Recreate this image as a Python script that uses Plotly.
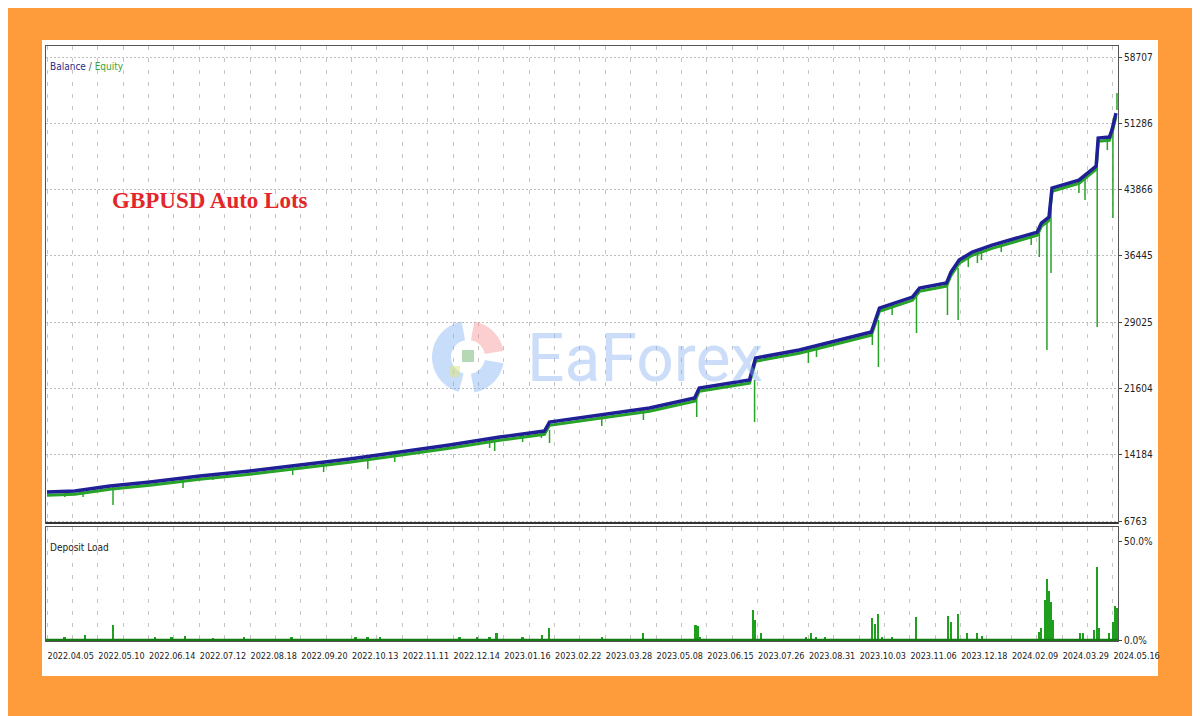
import numpy as np
import plotly.graph_objects as go

# ---------------- data ----------------
# x = deal-sequence position (MT5 tester graphs are indexed by deal, not by time)
date_labels = ["2022.04.05", "2022.05.10", "2022.06.14", "2022.07.12", "2022.08.18",
               "2022.09.20", "2022.10.13", "2022.11.11", "2022.12.14", "2023.01.16",
               "2023.02.22", "2023.03.28", "2023.05.08", "2023.06.15", "2023.07.26",
               "2023.08.31", "2023.10.03", "2023.11.06", "2023.12.18", "2024.02.09",
               "2024.03.29", "2024.05.16"]

balance_x = [0, 55, 124, 203, 301, 400, 498, 596, 695, 793, 892, 980, 990, 1089, 1187,
             1276, 1285, 1384, 1396, 1482, 1581, 1624, 1640, 1705, 1719, 1772, 1781,
             1797, 1823, 1862, 1951, 1959, 1974, 1980, 2033, 2067, 2071, 2093, 2098, 2106]
balance_v = [10009, 10121, 10680, 11128, 11800, 12359, 13030, 13702, 14485, 15269, 16164,
             16836, 17843, 18627, 19410, 20529, 21648, 22544, 25006, 25902, 27356, 27916,
             30602, 31833, 32840, 33400, 34631, 35974, 36869, 37653, 39108, 40115, 40787,
             44032, 44928, 46495, 49628, 49740, 50524, 52426]
equity_v = [9650, 9760, 10320, 10770, 11440, 12000, 12670, 13340, 14120, 14910, 15800,
            16470, 17480, 18270, 19050, 20170, 21290, 22180, 24650, 25540, 26990, 27550,
            30240, 31470, 32480, 33040, 34270, 35610, 36510, 37290, 38750, 39750, 40420,
            43670, 44570, 46130, 49270, 49380, 50160, 52070]

# equity draw-downs: position, equity before the dip, lowest equity
dip_x = [35, 71, 130, 213, 268, 327, 484, 545, 632, 685, 872, 882, 937, 974, 990, 1093,
         1175, 1280, 1394, 1500, 1516, 1531, 1626, 1638, 1665, 1713, 1774, 1795, 1815,
         1833, 1841, 1880, 1939, 1955, 1970, 1978, 2033, 2045, 2069, 2089, 2100, 2108]
dip_top = [10121, 10233, 10680, 11240, 11464, 11911, 12919, 13366, 13814, 14374, 16052,
           16052, 16500, 16836, 16948, 18627, 19298, 20529, 22544, 26125, 26349, 26573,
           27916, 29259, 30938, 31945, 33512, 35079, 36310, 36646, 37093, 37877, 38884,
           39332, 40787, 42130, 44816, 45152, 46383, 49740, 50524, 52762]
dip_low = [9449, 9449, 8554, 10792, 10456, 11352, 11911, 12247, 12583, 13366, 14933,
           14597, 15605, 16052, 15493, 17395, 18067, 18403, 17843, 24446, 25118, 26125,
           26461, 23999, 29819, 27804, 29819, 29259, 35191, 35638, 35974, 36869, 37653,
           36310, 25901, 34519, 43473, 42689, 28475, 48285, 40675, 54665]

# deposit load (%)
load_x = [35, 75, 130, 213, 246, 272, 327, 388, 482, 608, 632, 656, 813, 848, 872, 886,
          937, 976, 990, 1094, 1175, 1278, 1282, 1287, 1392, 1396, 1407, 1496, 1506, 1516,
          1533, 1626, 1632, 1638, 1646, 1665, 1713, 1776, 1781, 1795, 1813, 1833, 1843,
          1955, 1959, 1967, 1970, 1974, 1978, 1982, 2035, 2041, 2063, 2069, 2073, 2093,
          2100, 2104, 2108]
load_v = [1.5, 2.5, 7.6, 1.5, 1.5, 2.0, 1.0, 1.5, 1.5, 1.5, 1.5, 1.5, 1.5, 1.5, 1.5, 3.5,
          1.5, 2.5, 6.0, 1.5, 3.5, 7.6, 7.0, 1.5, 15.0, 10.0, 3.5, 1.5, 3.5, 1.5,
          1.5, 11.0, 8.0, 13.0, 1.5, 1.5, 11.6, 12.0, 9.0, 13.0, 3.5, 3.5, 2.0,
          4.0, 6.0, 20.0, 31.0, 25.0, 19.0, 10.0, 3.5, 3.5, 5.0, 37.0, 6.0, 3.5,
          9.0, 17.0, 16.0]

y_ticks = [6763, 14184, 21604, 29025, 36445, 43866, 51286, 58707]
load_ticks = [0, 50]
load_tick_text = ["0.0%", "50.0%"]

# ---------------- figure ----------------
W, H = 1200, 716
OFF = 8  # page body margin of the html document
L, R, T, B = 46, 1118, 46, 641  # wanted plot-area edges on screen


def paper(xp, yp):
    return (xp - L) / (R - L), (B - yp) / (B - T)


NAVY = "#1f1f96"
GREEN = "#27a327"
NARROW = "Liberation Sans Narrow, DejaVu Sans Condensed, Arial Narrow, Arial, sans-serif"

fig = go.Figure()

seg_x, seg_y = [], []
for x, t, b in zip(dip_x, dip_top, dip_low):
    seg_x += [x, x, None]
    seg_y += [t, b, None]
fig.add_trace(go.Scatter(x=seg_x, y=seg_y, mode="lines", line=dict(color=GREEN, width=1.5),
                         xaxis="x", yaxis="y", hoverinfo="skip"))
fig.add_trace(go.Scatter(x=balance_x, y=equity_v, mode="lines", line=dict(color=GREEN, width=3),
                         xaxis="x", yaxis="y", name="Equity"))
fig.add_trace(go.Scatter(x=balance_x, y=balance_v, mode="lines", line=dict(color=NAVY, width=3.5),
                         xaxis="x", yaxis="y", name="Balance"))

fig.add_trace(go.Bar(x=load_x, y=load_v, width=3.5, marker=dict(color="#1ea01e", line=dict(width=0)),
                     xaxis="x2", yaxis="y2", name="Deposit Load"))

tickvals = np.arange(0, 2101, 50)
ticktext = [date_labels[i // 100] if i % 100 == 0 else "" for i in tickvals]

grid_x = dict(showgrid=True, gridcolor="#c4c4c4", griddash="4px,8px", gridwidth=1)
common_x = dict(range=[-2, 2110], tickmode="array", tickvals=tickvals, ticks="",
                showline=True, mirror=True, linecolor="#555555", linewidth=1,
                zeroline=False, **grid_x)

fig.update_layout(
    width=W, height=H,
    margin=dict(l=L - OFF, r=W - (R - OFF), t=T - OFF, b=H - (B - OFF), autoexpand=False),
    paper_bgcolor="#FE9B3A",
    plot_bgcolor="white",
    showlegend=False,
    bargap=0,
    xaxis=dict(domain=[0, 1], anchor="y", matches="x2", showticklabels=False, **common_x),
    xaxis2=dict(domain=[0, 1], anchor="y2", ticktext=ticktext, showticklabels=True,
                ticklabelposition="outside right", tickangle=0, ticklabelstandoff=6,
                tickfont=dict(family=NARROW, size=9, color="#222"), **common_x),
    yaxis=dict(domain=[(B - 523) / (B - T), 1], anchor="x", side="right",
               range=[6539, 59938], tickmode="array", tickvals=y_ticks,
               ticktext=[str(v) for v in y_ticks],
               tickfont=dict(family=NARROW, size=10, color="#222"),
               ticks="outside", ticklen=3, tickcolor="#444",
               showgrid=True, gridcolor="#bdbdbd", griddash="2px,2px",
               showline=True, mirror=True, linecolor="#555555", zeroline=False),
    yaxis2=dict(domain=[0, (B - 527) / (B - T)], anchor="x2", side="right",
                range=[-0.5, 57.1], tickmode="array", tickvals=load_ticks,
                ticktext=load_tick_text,
                tickfont=dict(family=NARROW, size=10, color="#222"),
                ticks="outside", ticklen=3, tickcolor="#444",
                showgrid=False, showline=True, mirror=True, linecolor="#555555",
                zeroline=False),
)

shapes = []
x0, y0 = paper(42, 676)
x1, y1 = paper(1158, 40)
shapes.append(dict(type="rect", xref="paper", yref="paper", x0=x0, y0=y0, x1=x1, y1=y1,
                   fillcolor="white", line=dict(width=0), layer="below"))
shapes.append(dict(type="line", xref="x2 domain", yref="y2", x0=0, x1=1, y0=0, y1=0,
                   line=dict(color="#137a13", width=2.5)))
shapes.append(dict(type="line", xref="x domain", yref="y domain", x0=0, x1=1, y0=0, y1=0,
                   line=dict(color="#333", width=2)))


# watermark logo: ring segments around (468, 357)
def ring_path(cx, cy, r_out, r_in, a0, a1):
    angs = np.radians(np.linspace(a0, a1, 24))
    pts = [(cx + r_out * np.cos(a), cy - r_out * np.sin(a)) for a in angs]
    pts += [(cx + r_in * np.cos(a), cy - r_in * np.sin(a)) for a in angs[::-1]]
    pp = [paper(px, py) for px, py in pts]
    return "M " + " L ".join(f"{a:.5f},{b:.5f}" for a, b in pp) + " Z"


for a0, a1, col in [(100, 255, "rgba(110,165,240,0.38)"),
                    (10, 80, "rgba(245,130,130,0.38)"),
                    (280, 350, "rgba(110,165,240,0.38)")]:
    shapes.append(dict(type="path", xref="paper", yref="paper", path=ring_path(468, 357, 36, 17, a0, a1),
                       fillcolor=col, line=dict(width=0)))
gx0, gy0 = paper(462, 362)
gx1, gy1 = paper(474, 350)
shapes.append(dict(type="rect", xref="paper", yref="paper", x0=gx0, y0=gy0, x1=gx1, y1=gy1,
                   fillcolor="rgba(90,170,90,0.45)", line=dict(width=0)))
yx0, yy0 = paper(449, 377)
yx1, yy1 = paper(460, 366)
shapes.append(dict(type="rect", xref="paper", yref="paper", x0=yx0, y0=yy0, x1=yx1, y1=yy1,
                   fillcolor="rgba(220,230,120,0.5)", line=dict(width=0)))
fig.update_layout(shapes=shapes)

annotations = []
ax, ay = paper(48, 67)
annotations.append(dict(xref="paper", yref="paper", x=ax, y=ay, xanchor="left", yanchor="middle",
                        showarrow=False,
                        text="<span style='color:#2a2a8a'>Balance</span>"
                             "<span style='color:#555'> / </span>"
                             "<span style='color:#3aa23a'>Equity</span>",
                        font=dict(family=NARROW, size=10)))
ax, ay = paper(48, 547)
annotations.append(dict(xref="paper", yref="paper", x=ax, y=ay, xanchor="left", yanchor="middle",
                        showarrow=False, text="Deposit Load",
                        font=dict(family=NARROW, size=10, color="#222")))
ax, ay = paper(110, 201)
annotations.append(dict(xref="paper", yref="paper", x=ax, y=ay, xanchor="left", yanchor="middle",
                        showarrow=False, text="<b>GBPUSD Auto Lots</b>",
                        font=dict(family="Liberation Serif, Times New Roman, serif", size=23,
                                  color="#E3262A")))
ax, ay = paper(645, 358)
annotations.append(dict(xref="paper", yref="paper", x=ax, y=ay, xanchor="center", yanchor="middle",
                        showarrow=False, text="EaForex",
                        font=dict(family="Roboto, Inter, sans-serif", size=66,
                                  color="rgba(130,175,240,0.42)")))
fig.update_layout(annotations=annotations)

fig.write_html("out.html")
